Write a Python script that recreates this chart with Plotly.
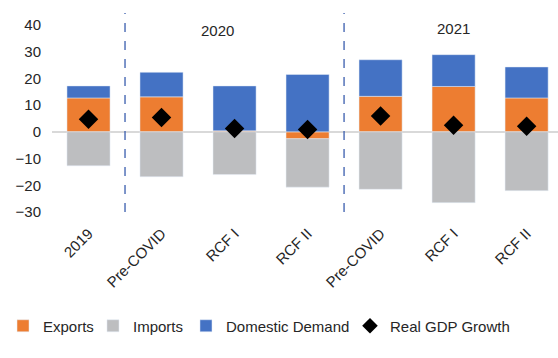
import plotly.graph_objects as go

categories = ["2019", "2020 Pre-COVID", "2020 RCF I", "2020 RCF II",
              "2021 Pre-COVID", "2021 RCF I", "2021 RCF II"]
tick_labels = ["2019", "Pre-COVID", "RCF I", "RCF II", "Pre-COVID", "RCF I", "RCF II"]
exports = [12.7, 13.1, 0.4, -2.6, 13.3, 17.0, 12.7]
imports = [-12.7, -16.8, -16.0, -18.1, -21.5, -26.5, -22.0]
domestic_demand = [4.5, 9.2, 16.8, 21.5, 13.7, 11.9, 11.6]
real_gdp_growth = [4.7, 5.4, 1.3, 0.9, 5.9, 2.5, 2.1]
y_ticks = [-30, -20, -10, 0, 10, 20, 30, 40]

FONT = "Liberation Sans, Arial, sans-serif"
TXT = "#262626"

fig = go.Figure()
fig.add_trace(go.Bar(x=categories, y=exports, name="Exports", marker_color="#ED7D31",
                     legend="legend"))
fig.add_trace(go.Bar(x=categories, y=imports, name="Imports", marker_color="#BDBEC0",
                     legend="legend2"))
fig.add_trace(go.Bar(x=categories, y=domestic_demand, name="Domestic Demand",
                     marker_color="#4472C4", legend="legend3"))
fig.add_trace(go.Scatter(x=categories, y=real_gdp_growth, name="Real GDP Growth", mode="markers",
                         marker=dict(symbol="diamond", size=15, color="black"),
                         legend="legend4"))

for xv in [0.5, 3.5]:
    fig.add_shape(type="line", xref="x", yref="paper", x0=xv, x1=xv, y0=0, y1=1,
                  line=dict(color="#3A5DAE", width=1.3, dash="dash"))

fig.add_annotation(text="2020", x=1.77, y=37.8, xref="x", yref="y", showarrow=False,
                   font=dict(size=15, color=TXT, family=FONT))
fig.add_annotation(text="2021", x=5.0, y=38.6, xref="x", yref="y", showarrow=False,
                   font=dict(size=15, color=TXT, family=FONT))

def leg(xp, sizing="trace"):
    return dict(orientation="h", x=xp, xanchor="left", y=-0.573, yanchor="middle",
                font=dict(size=15, color=TXT, family=FONT), itemwidth=30,
                itemsizing=sizing, bgcolor="rgba(0,0,0,0)")

fig.update_layout(
    width=558, height=358,
    margin=dict(l=52, r=0, t=13, b=146),
    barmode="relative", bargap=0.41,
    plot_bgcolor="white", paper_bgcolor="white",
    font=dict(family=FONT, size=15, color=TXT),
    showlegend=True,
    legend=leg(-0.0968),
    legend2=leg(0.0810),
    legend3=leg(0.2648),
    legend4=leg(0.5889, "constant"),
)
fig.update_xaxes(type="category", tickvals=categories, ticktext=tick_labels, tickangle=-45,
                 range=[-0.5, 6.43], showgrid=False, showline=False, ticks="",
                 ticklabelstandoff=9)
fig.update_yaxes(range=[-30, 44.5], tickvals=y_ticks, showgrid=False, zeroline=True,
                 zerolinecolor="#D9D9D9", zerolinewidth=2, ticks="", ticklabelstandoff=10)

fig.write_html("out.html", config={"displayModeBar": False},
               post_script="document.body.style.margin='0';")
